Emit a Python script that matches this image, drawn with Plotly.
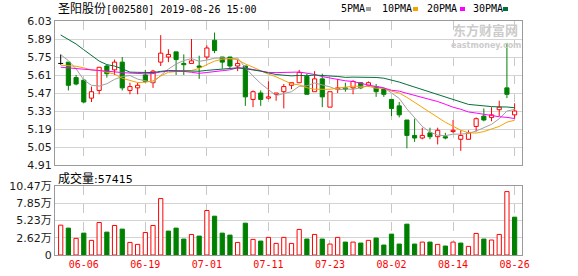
import plotly.graph_objects as go
import pandas as pd

# ---------------- data ----------------
stock_title = "圣阳股份[002580] 2019-08-26 15:00"
dates = ["06-03", "06-04", "06-05", "06-06", "06-10", "06-11", "06-12", "06-13", "06-14", "06-17",
         "06-18", "06-19", "06-20", "06-21", "06-24", "06-25", "06-26", "06-27", "06-28", "07-01",
         "07-02", "07-03", "07-04", "07-05", "07-08", "07-09", "07-10", "07-11", "07-12", "07-15",
         "07-16", "07-17", "07-18", "07-19", "07-22", "07-23", "07-24", "07-25", "07-26", "07-29",
         "07-30", "07-31", "08-01", "08-02", "08-05", "08-06", "08-07", "08-08", "08-09", "08-12",
         "08-13", "08-14", "08-15", "08-16", "08-19", "08-20", "08-21", "08-22", "08-23", "08-26"]
opens = [5.70, 5.71, 5.59, 5.57, 5.43, 5.49, 5.68, 5.65, 5.71, 5.49,
         5.51, 5.61, 5.55, 5.71, 5.75, 5.79, 5.70, 5.70, 5.68, 5.75,
         5.88, 5.75, 5.75, 5.68, 5.68, 5.42, 5.47, 5.43, 5.46, 5.48,
         5.53, 5.55, 5.60, 5.48, 5.58, 5.36, 5.50, 5.51, 5.51, 5.55,
         5.53, 5.52, 5.50, 5.42, 5.37, 5.26, 5.14, 5.12, 5.16, 5.13,
         5.13, 5.17, 5.11, 5.11, 5.21, 5.29, 5.28, 5.34, 5.51, 5.30]
highs = [5.77, 5.71, 5.61, 5.58, 5.52, 5.67, 5.69, 5.73, 5.75, 5.55,
         5.55, 5.65, 5.65, 5.92, 5.81, 5.79, 5.77, 5.89, 5.76, 5.84,
         5.94, 5.75, 5.75, 5.73, 5.68, 5.49, 5.49, 5.56, 5.47, 5.54,
         5.55, 5.65, 5.62, 5.64, 5.62, 5.48, 5.58, 5.55, 5.57, 5.55,
         5.56, 5.54, 5.50, 5.42, 5.40, 5.26, 5.27, 5.20, 5.20, 5.20,
         5.16, 5.26, 5.18, 5.18, 5.28, 5.35, 5.36, 5.41, 5.86, 5.39]
lows = [5.69, 5.49, 5.53, 5.39, 5.40, 5.46, 5.59, 5.61, 5.49, 5.46,
        5.46, 5.55, 5.51, 5.68, 5.71, 5.61, 5.61, 5.70, 5.58, 5.73,
        5.78, 5.66, 5.66, 5.64, 5.37, 5.36, 5.37, 5.42, 5.41, 5.35,
        5.50, 5.55, 5.46, 5.48, 5.36, 5.36, 5.47, 5.48, 5.46, 5.50,
        5.52, 5.44, 5.44, 5.29, 5.28, 5.04, 5.09, 5.11, 5.11, 5.07,
        5.11, 5.16, 5.02, 5.11, 5.17, 5.25, 5.25, 5.29, 5.43, 5.27]
closes = [5.70, 5.53, 5.54, 5.40, 5.48, 5.67, 5.62, 5.71, 5.51, 5.52,
          5.53, 5.56, 5.64, 5.78, 5.77, 5.73, 5.69, 5.72, 5.67, 5.82,
          5.80, 5.71, 5.68, 5.70, 5.44, 5.48, 5.42, 5.44, 5.47, 5.52,
          5.55, 5.63, 5.46, 5.58, 5.44, 5.48, 5.51, 5.50, 5.56, 5.51,
          5.55, 5.48, 5.46, 5.35, 5.30, 5.14, 5.12, 5.14, 5.13, 5.18,
          5.12, 5.18, 5.14, 5.16, 5.27, 5.26, 5.30, 5.36, 5.46, 5.33]
# closes before the visible window (estimated back from the start of the MA lines)
earlier_closes = [6.58, 6.60, 6.74, 6.84, 6.95, 6.45, 6.05, 6.14, 6.30, 5.58,
                  5.62, 5.63, 5.50, 5.57, 5.78, 5.74, 5.83, 5.63, 5.62, 5.63,
                  5.55, 5.60, 5.52, 5.65, 5.70, 5.76, 5.86, 5.83, 5.69]
volumes_wan = [4.53, 4.08, 2.52, 3.32, 2.22, 4.93, 3.47, 4.48, 3.93, 1.91,
               1.61, 3.42, 4.48, 8.56, 3.63, 4.08, 2.42, 3.12, 2.87, 6.75,
               5.89, 3.32, 3.02, 1.91, 4.83, 2.37, 2.11, 2.67, 1.76, 2.67,
               1.76, 3.88, 2.42, 3.12, 2.42, 1.66, 2.67, 1.96, 1.96, 1.81,
               2.22, 2.57, 1.51, 3.17, 1.66, 4.68, 1.66, 1.96, 1.96, 1.61,
               1.36, 1.96, 1.81, 1.31, 3.27, 2.42, 2.27, 3.12, 9.62, 5.7415]
price_ticks = [4.91, 5.05, 5.19, 5.33, 5.47, 5.61, 5.75, 5.89, 6.03]
vol_ticks = [0, 2.62, 5.23, 7.85, 10.47]
vol_tick_text = ["0", "2.62万", "5.23万", "7.85万", "10.47万"]
ma_periods = [5, 10, 20, 30]
ma_names = ["5PMA", "10PMA", "20PMA", "30PMA"]
ma_colors = ["#a0a0a0", "#f5a300", "#ff00ff", "#00703a"]

# ---------------- styling / geometry ----------------
W, H = 578, 276
L, R, T, B = 55, 522, 21, 255
RED, GREEN, BLACK = "#ff0000", "#008000", "#000000"
MONO = "DejaVu Sans Mono, Noto Sans CJK SC"
SANS = "DejaVu Sans, Noto Sans CJK SC"


def px_x(px):
    return (px - L) / (R - L)


def px_y(py):
    return (B - py) / (B - T)


n = len(closes)
idx = list(range(n))
xr = [-0.74, n - 0.04]
tick_idx = list(range(3, n, 8))

fig = go.Figure()

# ---------- candles ----------
wicks = {RED: ([], []), GREEN: ([], []), BLACK: ([], [])}
body_base, body_h, body_fill, body_line = [], [], [], []
bw = 0.54
for i in idx:
    o, h, l, c = opens[i], highs[i], lows[i], closes[i]
    col = RED if c > o else (GREEN if c < o else BLACK)
    top, bot = max(o, c), min(o, c)
    xs, ys = wicks[col]
    if h > top:
        xs += [i, i, None]; ys += [top, h, None]
    if l < bot:
        xs += [i, i, None]; ys += [bot, l, None]
    if col == BLACK:
        xs += [i - bw / 2 - 0.05, i + bw / 2 + 0.05, None]; ys += [o, o, None]
        body_base.append(o); body_h.append(0); body_fill.append("rgba(0,0,0,0)"); body_line.append("rgba(0,0,0,0)")
    else:
        body_base.append(bot); body_h.append(top - bot)
        body_fill.append("#ffffff" if col == RED else GREEN)
        body_line.append(col)

fig.add_trace(go.Bar(x=idx, y=body_h, base=body_base, width=bw,
                     marker=dict(color=body_fill, line=dict(color=body_line, width=1)),
                     xaxis="x", yaxis="y", hoverinfo="skip", showlegend=False))
for col, (xs, ys) in wicks.items():
    if xs:
        fig.add_trace(go.Scatter(x=xs, y=ys, mode="lines", line=dict(color=col, width=1),
                                 xaxis="x", yaxis="y", hoverinfo="skip", showlegend=False))

# ---------- moving averages ----------
all_closes = pd.Series(earlier_closes + closes)
for p, name, col in zip(ma_periods, ma_names, ma_colors):
    ma = all_closes.rolling(p).mean().iloc[-n:].tolist()
    fig.add_trace(go.Scatter(x=idx, y=ma, mode="lines", line=dict(color=col, width=1),
                             name=name, xaxis="x", yaxis="y", hoverinfo="skip", showlegend=False))

# ---------- volume ----------
prev = [earlier_closes[-1]] + closes[:-1]
v_fill, v_line = [], []
for i in idx:
    up = closes[i] >= prev[i]
    v_fill.append("#ffffff" if up else GREEN)
    v_line.append(RED if up else GREEN)
fig.add_trace(go.Bar(x=idx, y=volumes_wan, width=0.55,
                     marker=dict(color=v_fill, line=dict(color=v_line, width=1)),
                     xaxis="x2", yaxis="y2", hoverinfo="skip", showlegend=False))

grid_col = "#d4d4d4"
border = "#9a9a9a"
common_x = dict(range=xr, tickvals=tick_idx, showgrid=True, griddash="dash", gridcolor="#c8c8c8",
                gridwidth=1, zeroline=False, showline=True, mirror=True, linecolor=border,
                linewidth=1, ticks="", fixedrange=True)
fig.update_layout(
    width=W, height=H,
    margin=dict(l=L, r=W - R, t=T, b=H - B, autoexpand=False),
    paper_bgcolor="#ffffff", plot_bgcolor="#ffffff",
    barmode="overlay", bargap=0,
    xaxis=dict(domain=[0, 1], anchor="y", showticklabels=False, **common_x),
    xaxis2=dict(domain=[0, 1], anchor="y2", showticklabels=True,
                ticktext=[dates[i] for i in tick_idx],
                tickfont=dict(family=MONO, size=10, color=RED), **common_x),
    yaxis=dict(domain=[px_y(165), 1], anchor="x", range=[price_ticks[0], price_ticks[-1]],
               tickvals=price_ticks, ticktext=["%.2f" % v for v in price_ticks],
               tickfont=dict(family=SANS, size=11, color="#1a1a1a"),
               showgrid=True, gridcolor=grid_col, zeroline=False, showline=True, mirror=True,
               linecolor=border, ticks="", fixedrange=True),
    yaxis2=dict(domain=[0, px_y(186)], anchor="x2", range=[0, vol_ticks[-1]],
                tickvals=vol_ticks, ticktext=vol_tick_text,
                tickfont=dict(family=SANS, size=11, color="#1a1a1a"),
                showgrid=True, gridcolor=grid_col, zeroline=False, showline=True, mirror=True,
                linecolor=border, ticks="", fixedrange=True),
)

ann = []
# title
ann.append(dict(xref="paper", yref="paper", x=px_x(56), y=px_y(9), xanchor="left", yanchor="middle",
                showarrow=False, text=stock_title.replace("圣阳股份", "<span style='font-size:12px'>圣阳股份</span>"),
                font=dict(family=MONO, size=10, color="#000000")))
# MA legend
leg_x = [339, 380, 425, 471]
sq_x = [366, 413, 460, 503]
for name, col, lx, sx in zip(ma_names, ma_colors, leg_x, sq_x):
    ann.append(dict(xref="paper", yref="paper", x=px_x(lx), y=px_y(9), xanchor="left", yanchor="middle",
                    showarrow=False, text=name, font=dict(family=MONO, size=10, color="#000000")))
shapes = []
for col, sx in zip(ma_colors, sq_x):
    shapes.append(dict(type="rect", xref="paper", yref="paper", x0=px_x(sx), x1=px_x(sx + 5),
                       y0=px_y(11), y1=px_y(7), fillcolor=col, line=dict(width=0)))
# volume title
ann.append(dict(xref="paper", yref="paper", x=px_x(56), y=px_y(178), xanchor="left", yanchor="middle",
                showarrow=False,
                text="<span style='font-size:12px'>成交量</span>:%d" % round(volumes_wan[-1] * 10000),
                font=dict(family=SANS, size=11, color="#000000")))
# watermark
ann.append(dict(xref="paper", yref="paper", x=px_x(485), y=px_y(40), xanchor="center", yanchor="bottom",
                showarrow=False, text="<b>东方财富网</b>", borderpad=0,
                font=dict(family="Noto Sans CJK SC", size=13, color="#cccccc")))
ann.append(dict(xref="paper", yref="paper", x=px_x(486), y=px_y(40), xanchor="center", yanchor="top",
                showarrow=False, text="<b>eastmoney.com</b>", borderpad=0,
                font=dict(family="DejaVu Sans", size=8, color="#cccccc")))
fig.update_layout(annotations=ann, shapes=shapes)

fig.write_html("out.html", config={"staticPlot": True})
